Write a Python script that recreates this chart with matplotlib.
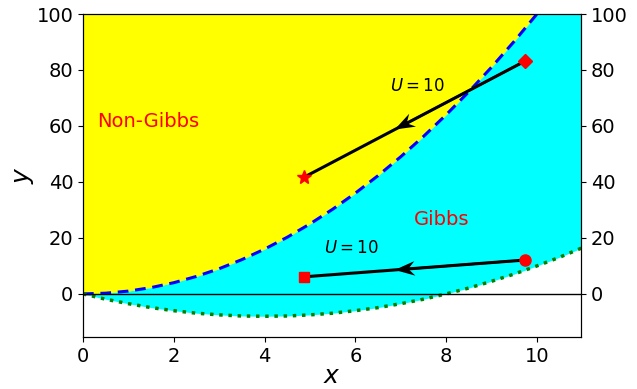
import matplotlib
matplotlib.use("Agg")
import matplotlib.pyplot as plt
import numpy as np

# Boundary curves
x_curve = [0, 0.5, 1, 1.5, 2, 2.5, 3, 3.5, 4, 4.5, 5, 5.5, 6, 6.5, 7, 7.5, 8, 8.5, 9, 9.5, 10, 10.5, 11]
y_upper = [0, 0.25, 1, 2.25, 4, 6.25, 9, 12.25, 16, 20.25, 25, 30.25, 36, 42.25, 49, 56.25,
           64, 72.25, 81, 90.25, 100, 110.25, 121]
y_lower = [0, -1.9, -3.5, -4.9, -6, -6.9, -7.5, -7.9, -8, -7.9, -7.5, -6.9, -6, -4.9, -3.5,
           -1.9, 0, 2.1, 4.5, 7.1, 10, 13.1, 16.5]

# Points and arrows
start1, end1 = (9.74, 83.2), (4.87, 41.7)
start2, end2 = (9.74, 12.1), (4.87, 6.1)
label_u = r"$U = 10$"

fig = plt.figure(figsize=(6.37, 3.89), dpi=100)
ax = fig.add_axes([83/637, 52/389, 498/637, 323/389])

xc = np.array(x_curve); yu = np.array(y_upper); yl = np.array(y_lower)
top = 100
ax.fill_between(xc, np.minimum(yu, top), top, color="yellow", lw=0)
ax.fill_between(xc, yl, np.minimum(yu, top), color="cyan", lw=0)
ax.plot(xc, yu, color="blue", ls="--", lw=2.2, dashes=(3.5, 2.2))
ax.plot(xc, yl, color="green", ls=":", lw=2.5)
ax.axhline(0, color="black", lw=1)

ax.plot([start1[0], end1[0]], [start1[1], end1[1]], color="black", lw=2.2)
ax.plot([start2[0], end2[0]], [start2[1], end2[1]], color="black", lw=2.2)
for s, e in [(start1, end1), (start2, end2)]:
    f = 0.59
    ax.quiver(s[0], s[1], (e[0]-s[0])*f, (e[1]-s[1])*f, angles="xy", scale_units="xy",
              scale=1, color="black", width=0.0045, headwidth=6.5, headlength=9,
              headaxislength=6.5, zorder=4)

ax.plot(*end1, marker="*", color="red", ms=10, zorder=5)
ax.plot(*start1, marker="D", color="red", ms=7, zorder=5)
ax.plot(*end2, marker="s", color="red", ms=7, zorder=5)
ax.plot(*start2, marker="o", color="red", ms=8, zorder=5)

ax.text(0.32, 61.5, "Non-Gibbs", color="red", fontsize=14, va="center", ha="left")
ax.text(7.9, 26.5, "Gibbs", color="red", fontsize=14, va="center", ha="center")
ax.text(7.36, 74.3, label_u, fontsize=12, va="center", ha="center")
ax.text(5.9, 16.3, label_u, fontsize=12, va="center", ha="center")

ax.set_xlim(0, 10.97)
ax.set_ylim(-15.4, 100)
ax.set_xticks([0, 2, 4, 6, 8, 10])
ax.set_yticks([0, 20, 40, 60, 80, 100])
ax.tick_params(labelsize=14)
ax.set_xlabel(r"$x$", fontsize=18, labelpad=-1)
ax.set_ylabel(r"$y$", fontsize=18, labelpad=0)

ax2 = ax.twinx()
ax2.set_ylim(ax.get_ylim())
ax2.set_yticks([0, 20, 40, 60, 80, 100])
ax2.tick_params(labelsize=14)

fig.savefig("out.png", dpi=100)
